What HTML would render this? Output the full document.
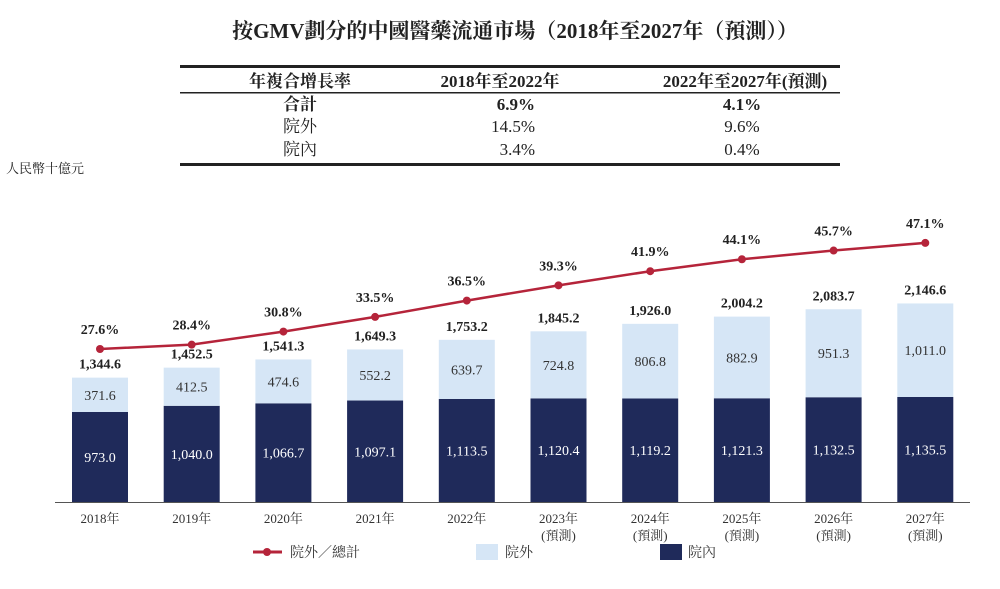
<!DOCTYPE html>
<html><head><meta charset="utf-8"><style>
body{margin:0;background:#fff;width:1000px;height:584px;overflow:hidden;font-family:"Liberation Serif","Noto Serif CJK SC",serif;}
</style></head><body>
<svg width="1000" height="584" xmlns="http://www.w3.org/2000/svg" font-family="Liberation Serif, Noto Serif CJK SC, serif">
<text x="515" y="38" text-anchor="middle" font-size="21" font-weight="bold" fill="#222">按GMV劃分的中國醫藥流通市場（2018年至2027年（預測））</text>
<g fill="#222" font-size="17">
<rect x="180" y="65" width="660" height="3" fill="#222"/>
<rect x="180" y="92" width="660" height="1.5" fill="#222"/>
<rect x="180" y="163" width="660" height="3" fill="#222"/>
<text x="300" y="87" text-anchor="middle" font-weight="bold">年複合增長率</text>
<text x="500" y="87" text-anchor="middle" font-weight="bold">2018年至2022年</text>
<text x="745" y="87" text-anchor="middle" font-weight="bold">2022年至2027年(預測)</text>
<text x="300" y="110" text-anchor="middle" font-weight="bold">合計</text>
<text x="535" y="110" text-anchor="end" font-weight="bold">6.9%</text>
<text x="742" y="110" text-anchor="middle" font-weight="bold">4.1%</text>
<text x="300" y="132" text-anchor="middle">院外</text>
<text x="535" y="132" text-anchor="end">14.5%</text>
<text x="742" y="132" text-anchor="middle">9.6%</text>
<text x="300" y="155" text-anchor="middle">院內</text>
<text x="535" y="155" text-anchor="end">3.4%</text>
<text x="742" y="155" text-anchor="middle">0.4%</text>
</g>
<text x="6" y="173" font-size="13" fill="#222">人民幣十億元</text>
<g id="plot"></g>
<line x1="55" y1="502.5" x2="970" y2="502.5" stroke="#555" stroke-width="1"/>
<g font-size="14" fill="#333">
<g><line x1="253" y1="552" x2="282" y2="552" stroke="#b5243a" stroke-width="3"/><circle cx="267" cy="552" r="4" fill="#b5243a"/><text x="290" y="557">院外／總計</text></g>
<g><rect x="476" y="544" width="22" height="16" fill="#d6e6f6"/><text x="505" y="557">院外</text></g>
<g><rect x="660" y="544" width="22" height="16" fill="#1f2a5a"/><text x="688" y="557">院內</text></g>
</g>
</svg>
<script>
const categories=["2018年","2019年","2020年","2021年","2022年","2023年","2024年","2025年","2026年","2027年"];
const forecast=[false,false,false,false,false,true,true,true,true,true];
const inside=[973.0,1040.0,1066.7,1097.1,1113.5,1120.4,1119.2,1121.3,1132.5,1135.5];
const outside=[371.6,412.5,474.6,552.2,639.7,724.8,806.8,882.9,951.3,1011.0];
const totals=[1344.6,1452.5,1541.3,1649.3,1753.2,1845.2,1926.0,2004.2,2083.7,2146.6];
const ratio=[27.6,28.4,30.8,33.5,36.5,39.3,41.9,44.1,45.7,47.1];
const NS="http://www.w3.org/2000/svg";
const g=document.getElementById('plot');
const xC=i=>100+i*91.7;
const yV=v=>502-v*0.0925;
const yP=p=>349-(p-27.6)*5.44;
const fmt=v=>v.toLocaleString('en-US',{minimumFractionDigits:1,maximumFractionDigits:1});
function el(t,a,txt){const e=document.createElementNS(NS,t);for(const k in a)e.setAttribute(k,a[k]);if(txt!=null)e.textContent=txt;g.appendChild(e);return e;}
const bw=56;
categories.forEach((c,i)=>{
 const x=xC(i)-bw/2;
 const yi=yV(inside[i]), yo=yV(inside[i]+outside[i]);
 let r=el('rect',{x:x,y:yi,width:bw,height:502-yi,fill:'#1f2a5a'});
 
 
 r=el('rect',{x:x,y:yo,width:bw,height:yi-yo,fill:'#d6e6f6'});
 
 
 let t=el('text',{x:xC(i),y:(yi+502)/2+5,'text-anchor':'middle','font-size':14,fill:'#fff'},fmt(inside[i]));
 
 
 t=el('text',{x:xC(i),y:(yo+yi)/2+5,'text-anchor':'middle','font-size':14,fill:'#333'},fmt(outside[i]));
 
 
 t=el('text',{x:xC(i),y:yV(totals[i])-9,'text-anchor':'middle','font-size':14,'font-weight':'bold',fill:'#222'},fmt(totals[i]));
 
 
 t=el('text',{x:xC(i),y:523,'text-anchor':'middle','font-size':13,fill:'#333'},c);
 
 
 if(forecast[i]){t=el('text',{x:xC(i),y:540,'text-anchor':'middle','font-size':13,fill:'#333'},'(預測)');
 
 }
});
let d=ratio.map((p,i)=>(i?'L':'M')+xC(i)+' '+yP(p)).join(' ');
const ln=el('path',{d:d,fill:'none',stroke:'#b5243a','stroke-width':2.5});


ratio.forEach((p,i)=>{
 const c=el('circle',{cx:xC(i),cy:yP(p),r:4,fill:'#b5243a'});
 
 
 const t=el('text',{x:xC(i),y:yP(p)-15,'text-anchor':'middle','font-size':14,'font-weight':'bold',fill:'#222'},p.toFixed(1)+'%');
 
 
});
</script>
</body></html>
